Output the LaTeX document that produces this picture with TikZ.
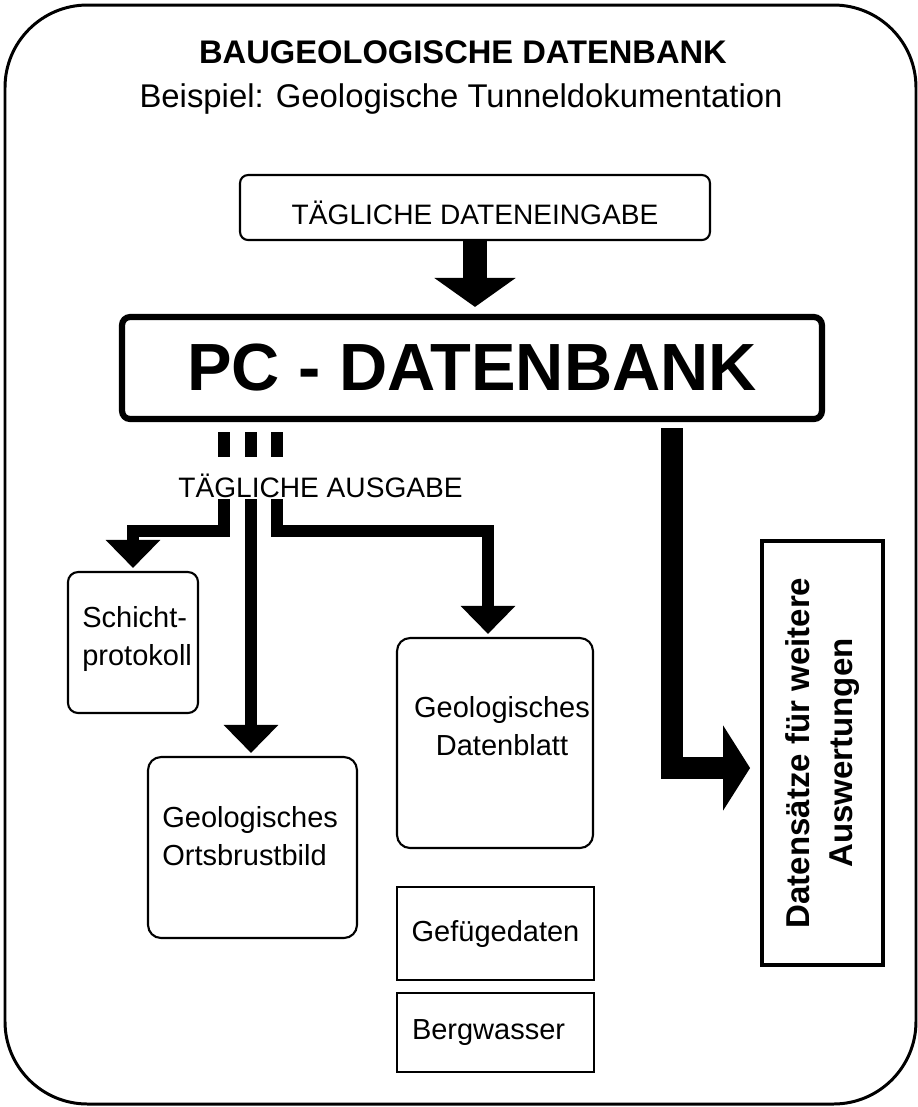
\documentclass[tikz,border=0pt]{standalone}
\usepackage{fontspec}
\setmainfont{Liberation Sans}
\usetikzlibrary{arrows.meta}

\tikzset{
  kasten/.style={draw, line width=1.2pt, inner sep=0pt},
  schrift/.style={font=\fontsize{16.5}{21.5}\selectfont, inner sep=0pt},
  pfeil/.style={line width=0.24cm, -{Triangle[width=1.06cm,length=0.56cm]}, shorten >=0.06cm},
}

\begin{document}
\begin{tikzpicture}[x=0.02cm, y=-0.02cm]
\useasboundingbox (0,0) rectangle (918,1107);
% Rahmen
\draw[line width=1.7pt, rounded corners=1.65cm] (5,5) rectangle (916,1104);
\node[font=\fontsize{18.6}{22}\selectfont\bfseries, anchor=base] (titel) at (463,63) {BAUGEOLOGISCHE DATENBANK};
\node[font=\fontsize{18.7}{22}\selectfont, anchor=base] (untertitel) at (461,107) {Beispiel: Geologische Tunneldokumentation};

% Eingabe und Datenbank
\node[kasten, rounded corners=0.16cm, minimum width=9.4cm, minimum height=1.3cm, text height=0.68cm, text depth=0pt, font=\fontsize{16}{19}\selectfont] (eingabe) at (475,207.5) {TÄGLICHE DATENEINGABE};
\node[draw, line width=3.5pt, rounded corners=0.16cm, minimum width=14cm, minimum height=2.04cm, font=\fontsize{38}{44}\selectfont\bfseries] (pc) at (472,368) {PC - DATENBANK};
\draw[line width=0.48cm, -{Triangle[width=1.6cm,length=0.58cm]}, shorten >=0.14cm] (eingabe.south) -- (eingabe.south |- pc.north);

% tägliche Ausgabe
\foreach \x in {224,251,277}
  \fill (\x-6,432) rectangle (\x+6,457);
\node[font=\fontsize{16}{19}\selectfont, inner sep=0pt, anchor=base west] (ausgabe) at (178,497) {TÄGLICHE AUSGABE};
\coordinate (a1) at (224,499);
\coordinate (a2) at (251,499);
\coordinate (a3) at (277,499);
\coordinate (k1) at (224,531);
\coordinate (k3) at (277,531);

\node[kasten, rounded corners=0.2cm, minimum width=2.6cm, minimum height=2.82cm] (schicht) at (133,642.5) {};
\node[schrift, anchor=north west, align=left] (schichttext) at (82,606) {Schicht-\\protokoll};
\node[kasten, rounded corners=0.26cm, minimum width=4.18cm, minimum height=3.62cm] (orts) at (252.5,847.5) {};
\node[schrift, anchor=north west, align=left] (ortstext) at (162,806) {Geologisches\\Ortsbrustbild};
\node[kasten, rounded corners=0.26cm, minimum width=3.92cm, minimum height=4.2cm] (blatt) at (495,743) {};
\node[schrift, anchor=north, align=center] (blatttext) at (502,696) {Geologisches\\Datenblatt};
\node[kasten, line width=1.4pt, minimum width=3.94cm, minimum height=1.86cm, schrift] (gefuege) at (495.5,933.5) {Gefügedaten};
\node[kasten, line width=1.4pt, minimum width=3.94cm, minimum height=1.58cm, schrift, text width=3.34cm, align=left] (berg) at (495.5,1032.5) {Bergwasser};

\draw[pfeil] (a1) -- (k1) -| (schicht.north);
\draw[pfeil] (a2) -- (a2 |- orts.north);
\draw[pfeil] (a3) -- (k3) -| ([xshift=-0.14cm]blatt.north);

% weitere Auswertungen
\node[draw, line width=2.2pt, minimum width=2.42cm, minimum height=8.48cm] (ziel) at (822.5,753) {};
\node[rotate=90, font=\fontsize{18.8}{24.5}\selectfont\bfseries, align=center] (zieltext) at (ziel.center) {Datensätze für weitere\\Auswertungen};
\coordinate (r1) at (672,768);
\draw[line width=0.44cm, -{Triangle[width=1.68cm,length=0.54cm]}, shorten <=0.12cm, shorten >=0.2cm] (pc.south -| r1) -- (r1) -- (r1 -| ziel.west);
\end{tikzpicture}
\end{document}
